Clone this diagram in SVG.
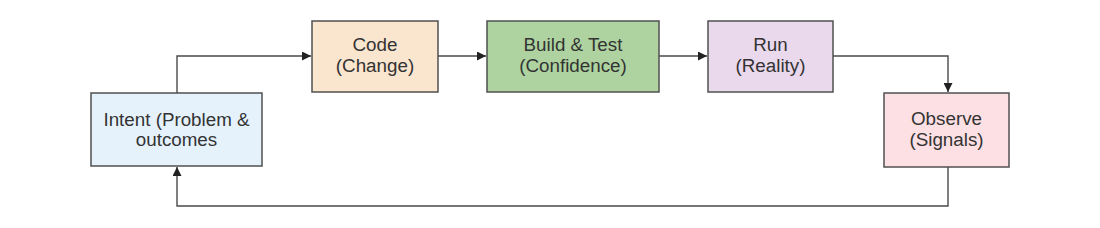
<svg xmlns="http://www.w3.org/2000/svg" width="1100" height="228" viewBox="0 0 1100 228">
<style>
.box{stroke:#505050;stroke-width:1.5}
.t{font-family:"Liberation Sans",Arial,sans-serif;font-size:18.8px;fill:#333;text-anchor:middle}
.c{fill:none;stroke:#4a4a4a;stroke-width:1.4}
</style>
<defs>
<marker id="a" viewBox="0 0 10 10" refX="10" refY="5" markerWidth="14" markerHeight="9" markerUnits="userSpaceOnUse" orient="auto">
<path d="M0,0 L10,5 L0,10 z" fill="#222"/>
</marker>
</defs>
<rect width="1100" height="228" fill="#fff"/>
<g id="connectors">
<path class="c" d="M177,93 V56 H311" marker-end="url(#a)"/>
<path class="c" d="M438,56 H486" marker-end="url(#a)"/>
<path class="c" d="M659,56 H707" marker-end="url(#a)"/>
<path class="c" d="M833,56 H948 V92" marker-end="url(#a)"/>
<path class="c" d="M948,167 V206 H177 V167" marker-end="url(#a)"/>
</g>
<g id="intent">
<rect class="box" x="91" y="93" width="171" height="73" fill="#e5f2fc"/>
<text class="t" x="176.5" y="125.5">Intent (Problem &amp;</text>
<text class="t" x="176.5" y="146">outcomes</text>
</g>
<g id="code">
<rect class="box" x="312" y="21" width="126" height="71" fill="#fae5cf"/>
<text class="t" x="375" y="51">Code</text>
<text class="t" x="375" y="72">(Change)</text>
</g>
<g id="build">
<rect class="box" x="487" y="21" width="172" height="71" fill="#aed3a0"/>
<text class="t" x="573" y="51">Build &amp; Test</text>
<text class="t" x="573" y="72">(Confidence)</text>
</g>
<g id="run">
<rect class="box" x="708" y="21" width="125" height="71" fill="#ead9ec"/>
<text class="t" x="770.5" y="51">Run</text>
<text class="t" x="770.5" y="72">(Reality)</text>
</g>
<g id="observe">
<rect class="box" x="884" y="93" width="125" height="74" fill="#fde0e3"/>
<text class="t" x="946.5" y="125">Observe</text>
<text class="t" x="946.5" y="146">(Signals)</text>
</g>
</svg>
